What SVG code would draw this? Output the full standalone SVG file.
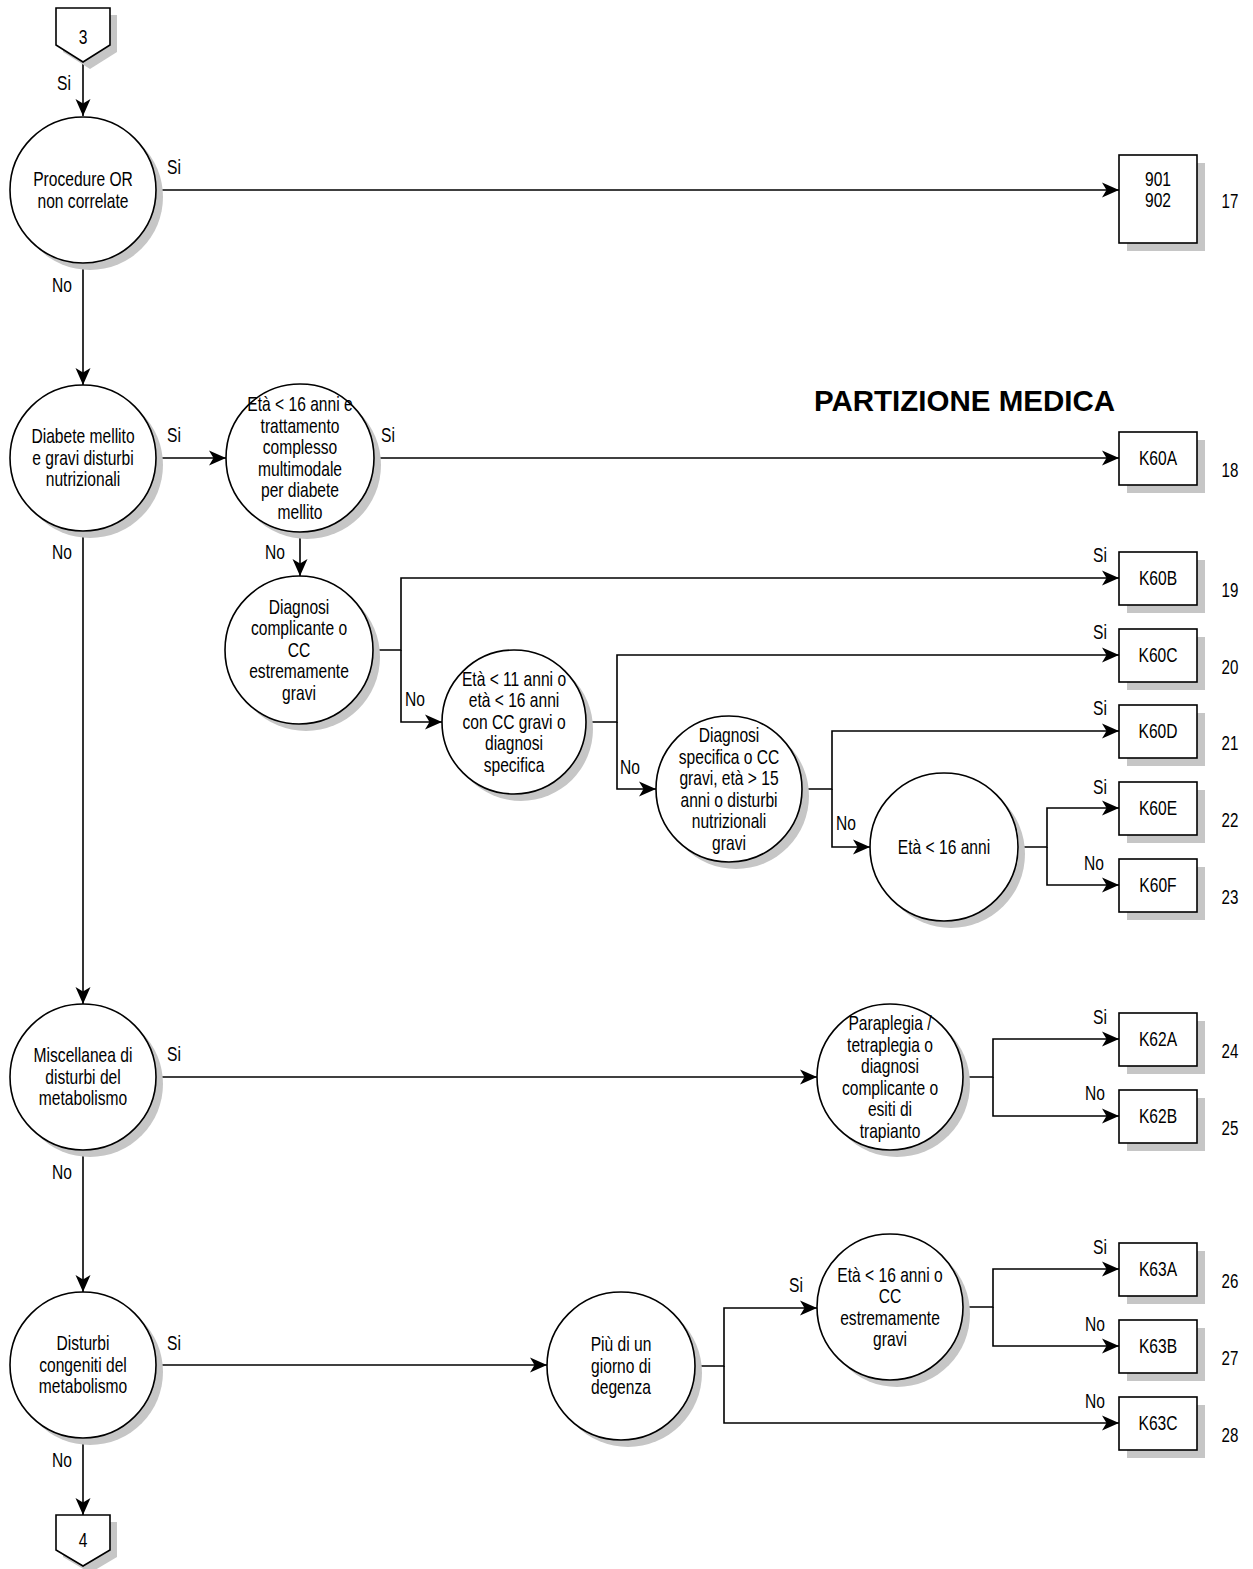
<svg xmlns="http://www.w3.org/2000/svg" width="1253" height="1569" viewBox="0 0 1253 1569">
<style>
.nd circle, .nd rect, .nd polygon { fill:#fff; stroke:#000; stroke-width:1.6; }
.nd .sh { fill:#c6c6c6; stroke:none; }
#connectors path { fill:none; stroke:#000; stroke-width:1.6; marker-end:url(#ah); }
text { font-family:"Liberation Sans", Arial, sans-serif; font-size:20px; text-anchor:middle; fill:#000; }
.num { font-size:21px; }
.title { font-weight:bold; font-size:29.5px; text-anchor:start; }
</style>
<defs>
<marker id="ah" markerUnits="userSpaceOnUse" markerWidth="18" markerHeight="16" refX="17" refY="8" orient="auto" viewBox="0 0 18 16">
<path d="M0,0.5 L17,8 L0,15.5 L4.5,8 z" fill="#000"/>
</marker>
</defs>
<rect width="1253" height="1569" fill="#fff"/>

<g id="connectors">
<path d="M83,62 V116"/>
<path d="M157,190 H1119"/>
<path d="M83,263 V385"/>
<path d="M157,458 H226"/>
<path d="M374,458 H1119"/>
<path d="M300,532 V576"/>
<path d="M373,650 H401 V578 H1119"/>
<path d="M401,650 V722 H442"/>
<path d="M586,722 H617 V655 H1119"/>
<path d="M617,722 V789 H656"/>
<path d="M802,789 H832 V731 H1119"/>
<path d="M832,789 V847 H870"/>
<path d="M1018,847 H1047 V808 H1119"/>
<path d="M1047,847 V885 H1119"/>
<path d="M83,531 V1004"/>
<path d="M157,1077 H817"/>
<path d="M963,1077 H993 V1039 H1119"/>
<path d="M993,1077 V1116 H1119"/>
<path d="M83,1150 V1292"/>
<path d="M157,1365 H547"/>
<path d="M695,1366 H724 V1308 H817"/>
<path d="M724,1366 V1423 H1119"/>
<path d="M963,1307 H993 V1269 H1119"/>
<path d="M993,1307 V1346 H1119"/>
<path d="M83,1438 V1515"/>
</g>

<g id="labels">
<text transform="matrix(0.78 0 0 1 64 0)" x="0" y="90">Si</text>
<text transform="matrix(0.78 0 0 1 174 0)" x="0" y="174">Si</text>
<text transform="matrix(0.78 0 0 1 62 0)" x="0" y="292">No</text>
<text transform="matrix(0.78 0 0 1 174 0)" x="0" y="442">Si</text>
<text transform="matrix(0.78 0 0 1 388 0)" x="0" y="442">Si</text>
<text transform="matrix(0.78 0 0 1 62 0)" x="0" y="559">No</text>
<text transform="matrix(0.78 0 0 1 275 0)" x="0" y="559">No</text>
<text transform="matrix(0.78 0 0 1 1100 0)" x="0" y="562">Si</text>
<text transform="matrix(0.78 0 0 1 415 0)" x="0" y="706">No</text>
<text transform="matrix(0.78 0 0 1 1100 0)" x="0" y="639">Si</text>
<text transform="matrix(0.78 0 0 1 630 0)" x="0" y="774">No</text>
<text transform="matrix(0.78 0 0 1 1100 0)" x="0" y="715.5">Si</text>
<text transform="matrix(0.78 0 0 1 846 0)" x="0" y="830">No</text>
<text transform="matrix(0.78 0 0 1 1100 0)" x="0" y="794">Si</text>
<text transform="matrix(0.78 0 0 1 1094 0)" x="0" y="870">No</text>
<text transform="matrix(0.78 0 0 1 174 0)" x="0" y="1061">Si</text>
<text transform="matrix(0.78 0 0 1 1100 0)" x="0" y="1024">Si</text>
<text transform="matrix(0.78 0 0 1 1095 0)" x="0" y="1100">No</text>
<text transform="matrix(0.78 0 0 1 62 0)" x="0" y="1179">No</text>
<text transform="matrix(0.78 0 0 1 796 0)" x="0" y="1292">Si</text>
<text transform="matrix(0.78 0 0 1 1100 0)" x="0" y="1254">Si</text>
<text transform="matrix(0.78 0 0 1 1095 0)" x="0" y="1331">No</text>
<text transform="matrix(0.78 0 0 1 1095 0)" x="0" y="1408">No</text>
<text transform="matrix(0.78 0 0 1 174 0)" x="0" y="1350">Si</text>
<text transform="matrix(0.78 0 0 1 62 0)" x="0" y="1467">No</text>
</g>

<text id="title" class="title" x="814" y="411">PARTIZIONE MEDICA</text>

<g id="conn3" class="nd">
<polygon class="sh" points="63,15 117,15 117,52 90,69 63,52"/>
<polygon points="56,8 110,8 110,45 83,62 56,45"/>
<text transform="matrix(0.78 0 0 1 83 0)" x="0" y="44.5">3</text>
</g>

<g id="conn4" class="nd">
<polygon class="sh" points="63,1522 117,1522 117,1557 90,1573 63,1557"/>
<polygon points="56,1515 110,1515 110,1550 83,1566 56,1550"/>
<text transform="matrix(0.78 0 0 1 83 0)" x="0" y="1547.5">4</text>
</g>

<g id="n_procedure" class="nd">
<circle class="sh" cx="90" cy="197" r="73"/>
<circle cx="83" cy="190" r="73"/>
<text transform="matrix(0.78 0 0 1 83 0)"><tspan x="0" y="186.5">Procedure OR</tspan><tspan x="0" y="208">non correlate</tspan></text>
</g>

<g id="n_diabete" class="nd">
<circle class="sh" cx="90" cy="465" r="73"/>
<circle cx="83" cy="458" r="73"/>
<text transform="matrix(0.78 0 0 1 83 0)"><tspan x="0" y="443.5">Diabete mellito</tspan><tspan x="0" y="465">e gravi disturbi</tspan><tspan x="0" y="486.5">nutrizionali</tspan></text>
</g>

<g id="n_miscellanea" class="nd">
<circle class="sh" cx="90" cy="1084" r="73"/>
<circle cx="83" cy="1077" r="73"/>
<text transform="matrix(0.78 0 0 1 83 0)"><tspan x="0" y="1062.5">Miscellanea di</tspan><tspan x="0" y="1084">disturbi del</tspan><tspan x="0" y="1105.5">metabolismo</tspan></text>
</g>

<g id="n_congeniti" class="nd">
<circle class="sh" cx="90" cy="1372" r="73"/>
<circle cx="83" cy="1365" r="73"/>
<text transform="matrix(0.78 0 0 1 83 0)"><tspan x="0" y="1350.5">Disturbi</tspan><tspan x="0" y="1372">congeniti del</tspan><tspan x="0" y="1393.5">metabolismo</tspan></text>
</g>

<g id="n_eta16_tratt" class="nd">
<circle class="sh" cx="307" cy="465" r="74"/>
<circle cx="300" cy="458" r="74"/>
<text transform="matrix(0.78 0 0 1 300 0)"><tspan x="0" y="411.25">Età &lt; 16 anni e</tspan><tspan x="0" y="432.75">trattamento</tspan><tspan x="0" y="454.25">complesso</tspan><tspan x="0" y="475.75">multimodale</tspan><tspan x="0" y="497.25">per diabete</tspan><tspan x="0" y="518.75">mellito</tspan></text>
</g>

<g id="n_diag_compl" class="nd">
<circle class="sh" cx="306" cy="657" r="74"/>
<circle cx="299" cy="650" r="74"/>
<text transform="matrix(0.78 0 0 1 299 0)"><tspan x="0" y="614">Diagnosi</tspan><tspan x="0" y="635.5">complicante o</tspan><tspan x="0" y="657">CC</tspan><tspan x="0" y="678.5">estremamente</tspan><tspan x="0" y="700">gravi</tspan></text>
</g>

<g id="n_eta11" class="nd">
<circle class="sh" cx="521" cy="729" r="72"/>
<circle cx="514" cy="722" r="72"/>
<text transform="matrix(0.78 0 0 1 514 0)"><tspan x="0" y="686">Età &lt; 11 anni o</tspan><tspan x="0" y="707.5">età &lt; 16 anni</tspan><tspan x="0" y="729">con CC gravi o</tspan><tspan x="0" y="750.5">diagnosi</tspan><tspan x="0" y="772">specifica</tspan></text>
</g>

<g id="n_diag_spec" class="nd">
<circle class="sh" cx="736" cy="796" r="73"/>
<circle cx="729" cy="789" r="73"/>
<text transform="matrix(0.78 0 0 1 729 0)"><tspan x="0" y="742.25">Diagnosi</tspan><tspan x="0" y="763.75">specifica o CC</tspan><tspan x="0" y="785.25">gravi, età &gt; 15</tspan><tspan x="0" y="806.75">anni o disturbi</tspan><tspan x="0" y="828.25">nutrizionali</tspan><tspan x="0" y="849.75">gravi</tspan></text>
</g>

<g id="n_eta16" class="nd">
<circle class="sh" cx="951" cy="854" r="74"/>
<circle cx="944" cy="847" r="74"/>
<text transform="matrix(0.78 0 0 1 944 0)" x="0" y="854">Età &lt; 16 anni</text>
</g>

<g id="n_paraplegia" class="nd">
<circle class="sh" cx="897" cy="1084" r="73"/>
<circle cx="890" cy="1077" r="73"/>
<text transform="matrix(0.78 0 0 1 890 0)"><tspan x="0" y="1030.25">Paraplegia /</tspan><tspan x="0" y="1051.75">tetraplegia o</tspan><tspan x="0" y="1073.25">diagnosi</tspan><tspan x="0" y="1094.75">complicante o</tspan><tspan x="0" y="1116.25">esiti di</tspan><tspan x="0" y="1137.75">trapianto</tspan></text>
</g>

<g id="n_degenza" class="nd">
<circle class="sh" cx="628" cy="1373" r="74"/>
<circle cx="621" cy="1366" r="74"/>
<text transform="matrix(0.78 0 0 1 621 0)"><tspan x="0" y="1351.5">Più di un</tspan><tspan x="0" y="1373">giorno di</tspan><tspan x="0" y="1394.5">degenza</tspan></text>
</g>

<g id="n_eta16_cc" class="nd">
<circle class="sh" cx="897" cy="1314" r="73"/>
<circle cx="890" cy="1307" r="73"/>
<text transform="matrix(0.78 0 0 1 890 0)"><tspan x="0" y="1281.75">Età &lt; 16 anni o</tspan><tspan x="0" y="1303.25">CC</tspan><tspan x="0" y="1324.75">estremamente</tspan><tspan x="0" y="1346.25">gravi</tspan></text>
</g>

<g id="b_901" class="nd">
<rect class="sh" x="1127" y="163" width="78" height="88"/>
<rect x="1119" y="155" width="78" height="88"/>
<text transform="matrix(0.78 0 0 1 1158 0)"><tspan x="0" y="186">901</tspan><tspan x="0" y="207.5">902</tspan></text>
<text class="num" transform="matrix(0.72 0 0 1 1230 0)" x="0" y="208.5">17</text>
</g>

<g id="b_K60A" class="nd">
<rect class="sh" x="1127" y="440" width="78" height="53"/>
<rect x="1119" y="432" width="78" height="53"/>
<text transform="matrix(0.78 0 0 1 1158 0)" x="0" y="465.5">K60A</text>
<text class="num" transform="matrix(0.72 0 0 1 1230 0)" x="0" y="477.5">18</text>
</g>

<g id="b_K60B" class="nd">
<rect class="sh" x="1127" y="560" width="78" height="53"/>
<rect x="1119" y="552" width="78" height="53"/>
<text transform="matrix(0.78 0 0 1 1158 0)" x="0" y="585.5">K60B</text>
<text class="num" transform="matrix(0.72 0 0 1 1230 0)" x="0" y="597.5">19</text>
</g>

<g id="b_K60C" class="nd">
<rect class="sh" x="1127" y="637" width="78" height="53"/>
<rect x="1119" y="629" width="78" height="53"/>
<text transform="matrix(0.78 0 0 1 1158 0)" x="0" y="662.5">K60C</text>
<text class="num" transform="matrix(0.72 0 0 1 1230 0)" x="0" y="674.5">20</text>
</g>

<g id="b_K60D" class="nd">
<rect class="sh" x="1127" y="713" width="78" height="53"/>
<rect x="1119" y="705" width="78" height="53"/>
<text transform="matrix(0.78 0 0 1 1158 0)" x="0" y="738.5">K60D</text>
<text class="num" transform="matrix(0.72 0 0 1 1230 0)" x="0" y="750.5">21</text>
</g>

<g id="b_K60E" class="nd">
<rect class="sh" x="1127" y="790" width="78" height="53"/>
<rect x="1119" y="782" width="78" height="53"/>
<text transform="matrix(0.78 0 0 1 1158 0)" x="0" y="815.5">K60E</text>
<text class="num" transform="matrix(0.72 0 0 1 1230 0)" x="0" y="827.5">22</text>
</g>

<g id="b_K60F" class="nd">
<rect class="sh" x="1127" y="867" width="78" height="53"/>
<rect x="1119" y="859" width="78" height="53"/>
<text transform="matrix(0.78 0 0 1 1158 0)" x="0" y="892.5">K60F</text>
<text class="num" transform="matrix(0.72 0 0 1 1230 0)" x="0" y="904.5">23</text>
</g>

<g id="b_K62A" class="nd">
<rect class="sh" x="1127" y="1021" width="78" height="53"/>
<rect x="1119" y="1013" width="78" height="53"/>
<text transform="matrix(0.78 0 0 1 1158 0)" x="0" y="1046.5">K62A</text>
<text class="num" transform="matrix(0.72 0 0 1 1230 0)" x="0" y="1058.5">24</text>
</g>

<g id="b_K62B" class="nd">
<rect class="sh" x="1127" y="1098" width="78" height="53"/>
<rect x="1119" y="1090" width="78" height="53"/>
<text transform="matrix(0.78 0 0 1 1158 0)" x="0" y="1123.5">K62B</text>
<text class="num" transform="matrix(0.72 0 0 1 1230 0)" x="0" y="1135.5">25</text>
</g>

<g id="b_K63A" class="nd">
<rect class="sh" x="1127" y="1251" width="78" height="53"/>
<rect x="1119" y="1243" width="78" height="53"/>
<text transform="matrix(0.78 0 0 1 1158 0)" x="0" y="1276.5">K63A</text>
<text class="num" transform="matrix(0.72 0 0 1 1230 0)" x="0" y="1288.5">26</text>
</g>

<g id="b_K63B" class="nd">
<rect class="sh" x="1127" y="1328" width="78" height="53"/>
<rect x="1119" y="1320" width="78" height="53"/>
<text transform="matrix(0.78 0 0 1 1158 0)" x="0" y="1353.5">K63B</text>
<text class="num" transform="matrix(0.72 0 0 1 1230 0)" x="0" y="1365.5">27</text>
</g>

<g id="b_K63C" class="nd">
<rect class="sh" x="1127" y="1405" width="78" height="53"/>
<rect x="1119" y="1397" width="78" height="53"/>
<text transform="matrix(0.78 0 0 1 1158 0)" x="0" y="1430.5">K63C</text>
<text class="num" transform="matrix(0.72 0 0 1 1230 0)" x="0" y="1442.5">28</text>
</g>
</svg>
